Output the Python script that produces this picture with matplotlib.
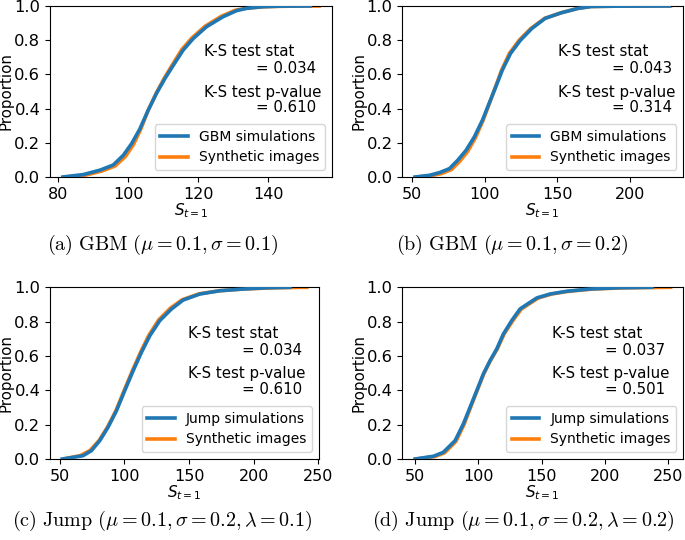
import matplotlib
matplotlib.use("Agg")
import matplotlib.pyplot as plt

# ECDF curves (x = S_{t=1}, p = proportion)
a_sim_x = [81.3, 87.1, 91.9, 95.7, 98.6, 101.0, 103.3, 105.7, 108.1, 110.5, 112.9, 115.7, 118.6, 122.4, 127.1, 131.0, 133.8, 138.0, 143.0, 152.0]
a_sim_p = [0.0, 0.014, 0.04, 0.07, 0.127, 0.196, 0.28, 0.39, 0.49, 0.576, 0.654, 0.742, 0.81, 0.879, 0.937, 0.973, 0.986, 0.995, 0.999, 1.0]
a_syn_x = [81.8, 87.6, 92.5, 96.3, 99.2, 101.5, 103.6, 105.7, 108.0, 110.3, 112.6, 115.3, 118.2, 122.0, 126.6, 130.6, 134.0, 139.0, 146.0, 154.6]
a_syn_p = [0.0, 0.01, 0.035, 0.065, 0.12, 0.19, 0.28, 0.39, 0.49, 0.578, 0.656, 0.745, 0.813, 0.882, 0.94, 0.975, 0.988, 0.996, 0.999, 1.0]

b_sim_x = [52.0, 62.0, 68.9, 75.7, 81.4, 87.1, 92.8, 98.4, 103.0, 107.6, 112.1, 117.8, 124.6, 132.5, 141.7, 153.0, 164.4, 173.5, 190.0, 227.0]
b_sim_p = [0.0, 0.01, 0.026, 0.049, 0.098, 0.156, 0.234, 0.332, 0.43, 0.527, 0.625, 0.723, 0.80, 0.869, 0.928, 0.961, 0.986, 0.997, 0.999, 1.0]
b_syn_x = [53.0, 63.5, 70.5, 77.2, 82.8, 88.3, 93.6, 98.9, 103.2, 107.4, 111.6, 117.0, 123.7, 131.8, 141.3, 152.8, 164.0, 173.0, 190.0, 228.0]
b_syn_p = [0.0, 0.008, 0.021, 0.044, 0.092, 0.15, 0.23, 0.332, 0.43, 0.527, 0.625, 0.723, 0.80, 0.869, 0.928, 0.961, 0.986, 0.997, 0.999, 1.0]

c_sim_x = [52.0, 68.0, 74.5, 81.0, 87.4, 93.9, 100.3, 106.8, 113.2, 119.7, 127.4, 136.5, 145.5, 158.4, 173.9, 191.9, 210.0, 228.0]
c_sim_p = [0.0, 0.019, 0.048, 0.107, 0.185, 0.281, 0.398, 0.514, 0.621, 0.718, 0.806, 0.874, 0.926, 0.961, 0.98, 0.99, 0.997, 1.0]
c_syn_x = [53.0, 66.0, 73.5, 80.5, 87.0, 93.5, 99.9, 106.3, 112.6, 118.9, 126.5, 135.5, 144.8, 157.8, 173.5, 192.0, 215.0, 241.0]
c_syn_p = [0.0, 0.02, 0.05, 0.108, 0.186, 0.282, 0.40, 0.516, 0.623, 0.72, 0.81, 0.878, 0.928, 0.962, 0.98, 0.99, 0.997, 1.0]

d_sim_x = [50.0, 64.5, 72.3, 81.6, 88.1, 93.4, 98.7, 103.9, 109.2, 114.5, 119.7, 126.3, 132.9, 138.2, 146.1, 156.6, 169.8, 188.2, 210.0, 237.0]
d_sim_p = [0.0, 0.016, 0.039, 0.107, 0.204, 0.301, 0.398, 0.495, 0.573, 0.641, 0.728, 0.806, 0.874, 0.90, 0.938, 0.961, 0.977, 0.99, 0.997, 1.0]
d_syn_x = [51.0, 65.5, 73.3, 82.3, 88.6, 93.8, 99.0, 104.2, 109.5, 114.9, 120.3, 127.2, 134.0, 139.4, 147.3, 158.0, 171.5, 190.5, 215.0, 251.7]
d_syn_p = [0.0, 0.014, 0.036, 0.103, 0.2, 0.3, 0.398, 0.495, 0.573, 0.641, 0.728, 0.806, 0.874, 0.90, 0.938, 0.961, 0.977, 0.99, 0.997, 1.0]

sim_labels = ["GBM simulations", "GBM simulations", "Jump simulations", "Jump simulations"]
ks_stats = ["0.034", "0.043", "0.034", "0.037"]
ks_pvalues = ["0.610", "0.314", "0.610", "0.501"]
captions = [
    r"$\mathrm{(a)\ GBM}\ (\mu = 0.1, \sigma = 0.1)$",
    r"$\mathrm{(b)\ GBM}\ (\mu = 0.1, \sigma = 0.2)$",
    r"$\mathrm{(c)\ Jump}\ (\mu = 0.1, \sigma = 0.2, \lambda = 0.1)$",
    r"$\mathrm{(d)\ Jump}\ (\mu = 0.1, \sigma = 0.2, \lambda = 0.2)$",
]

sims = [(a_sim_x, a_sim_p), (b_sim_x, b_sim_p), (c_sim_x, c_sim_p), (d_sim_x, d_sim_p)]
syns = [(a_syn_x, a_syn_p), (b_syn_x, b_syn_p), (c_syn_x, c_syn_p), (d_syn_x, d_syn_p)]

plt.rcParams["font.size"] = 10

W, H = 685, 540
fig = plt.figure(figsize=(W / 100, H / 100), dpi=100)

# axes boxes in pixels: left, top, right, bottom
boxes = [
    (50, 6, 332, 177),
    (402.3, 6, 683.3, 177),
    (50, 287.3, 319, 459),
    (402.3, 287.3, 683.3, 459),
]
text_left = [0.546, 0.555, 0.514, 0.534]
text_right = [0.943, 0.959, 0.936, 0.935]
ylabel_right_px = [13.5, 366, 13.5, 366]
caption_pos = [(163, 245), (512, 245), (162, 521), (523, 521)]

for i in range(4):
    l, t, r, b = boxes[i]
    ax = fig.add_axes([l / W, 1 - b / H, (r - l) / W, (b - t) / H])
    sx, sp = sims[i]
    yx, yp = syns[i]
    ax.plot(yx, yp, color="#ff7f0e", lw=2.6, label="Synthetic images", zorder=2)
    ax.plot(sx, sp, color="#1f77b4", lw=2.6, label=sim_labels[i], zorder=3)
    ax.set_ylim(0, 1)
    ax.set_ylabel("Proportion", fontsize=10.8)
    ax.yaxis.set_label_coords((ylabel_right_px[i] - l) / (r - l), 0.5)
    ax.set_xlabel(r"$\mathit{S_{t=1}}$", fontsize=11, labelpad=0)
    ax.set_yticks([0.0, 0.2, 0.4, 0.6, 0.8, 1.0])
    ax.tick_params(axis="y", labelsize=11.8)
    ax.tick_params(axis="x", labelsize=11.5)

    handles, labels = ax.get_legend_handles_labels()
    ax.legend(handles[::-1], labels[::-1], loc="lower right", fontsize=10)

    ax.text(text_left[i], 0.731, "K-S test stat", transform=ax.transAxes, ha="left", va="center", fontsize=10.8)
    ax.text(text_right[i], 0.632, "= " + ks_stats[i], transform=ax.transAxes, ha="right", va="center", fontsize=10.8)
    ax.text(text_left[i], 0.497, "K-S test p-value", transform=ax.transAxes, ha="left", va="center", fontsize=10.8)
    ax.text(text_right[i], 0.404, "= " + ks_pvalues[i], transform=ax.transAxes, ha="right", va="center", fontsize=10.8)

    cx, cy = caption_pos[i]
    fig.text(cx / W, 1 - cy / H, captions[i], ha="center", va="center",
             fontsize=14.5, math_fontfamily="cm")

fig.savefig("out.png", dpi=100)
